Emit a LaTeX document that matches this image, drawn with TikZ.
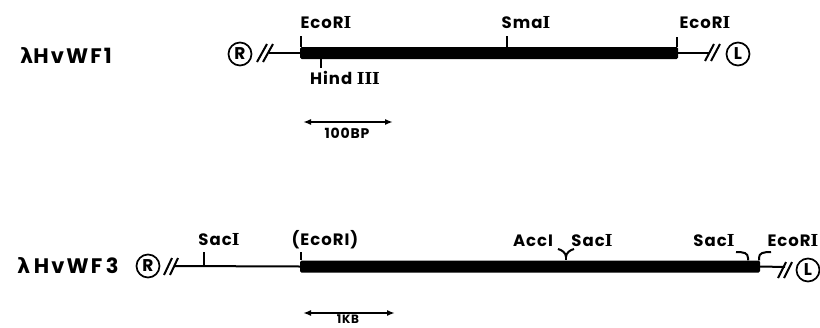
\documentclass[tikz,border=0pt]{standalone}
\usepackage{fontspec}
\setsansfont{Poppins}[LetterSpace=6]
\newfontfamily\grkfont{DejaVu Sans}
\newfontfamily\serifIfont{DejaVu Serif}
\usetikzlibrary{arrows.meta}
\newcommand\RNI{{\serifIfont\bfseries I}}
\begin{document}
\begin{tikzpicture}[x=1pt,y=-1pt,
  thinln/.style={line width=2pt},
  tickln/.style={line width=2pt},
  slashln/.style={line width=2pt},
  barbox/.style={fill=black, draw=none, inner sep=0pt, rounded corners=1.5pt},
  lab/.style={font=\sffamily\bfseries\fontsize{16.5}{17}\selectfont, inner sep=0pt},
  ttl/.style={font=\sffamily\bfseries\fontsize{21}{22}\selectfont\addfontfeatures{LetterSpace=10}, inner sep=0pt, anchor=west},
  endc/.style={circle, draw, line width=1.7pt, minimum size=23pt, inner sep=0pt,
     font=\sffamily\bfseries\fontsize{17}{17}\selectfont},
  scalearr/.style={line width=2pt, {Latex[length=8pt,width=6pt]}-{Latex[length=8pt,width=6pt]}}
]
\useasboundingbox (0,0) rectangle (820,327);

%% ---------- Row 1 ----------
\node[ttl] (t1) at (20,56) {{\grkfont\bfseries λ}HvWF1};
\node[endc] (R1) at (240,54) {R};
\node[barbox, minimum width=378pt, minimum height=12pt] (bar1) at (489,53) {};
\coordinate (s1a) at (257,62); \coordinate (s1b) at (267,44);
\coordinate (s1c) at (263,62); \coordinate (s1d) at (273,44);
\draw[slashln] (s1a) -- (s1b); \draw[slashln] (s1c) -- (s1d);
\coordinate (l1a) at (269,53);
\draw[thinln] (l1a) -- (bar1.west);
\coordinate (l1b) at (710,53);
\draw[thinln] (bar1.east) -- (l1b);
\coordinate (s1e) at (705,61); \coordinate (s1f) at (714,44);
\coordinate (s1g) at (711,61); \coordinate (s1h) at (720,44);
\draw[slashln] (s1e) -- (s1f); \draw[slashln] (s1g) -- (s1h);
\node[endc] (L1) at (738,54) {L};

% sites
\coordinate (k1) at (301,36);
\draw[tickln] (k1) -- (k1 |- bar1.north);
\node[lab] (e1) at (326,23) {EcoR\RNI};
\coordinate (k2) at (321,68);
\draw[tickln] (k2) -- (k2 |- bar1.south);
\node[lab] (h1) at (345,78) {Hind \RNI\RNI\RNI};
\coordinate (k3) at (507,36);
\draw[tickln] (k3) -- (k3 |- bar1.north);
\node[lab] (m1) at (526,23) {Sma\RNI};
\coordinate (k4) at (677,37);
\draw[tickln] (k4) -- (k4 |- bar1.north);
\node[lab] (e2) at (705,23) {EcoR\RNI};

% scale 1
\coordinate (a1) at (303,122); \coordinate (a2) at (393,122);
\draw[scalearr] (a1) -- (a2);
\node[lab, font=\sffamily\bfseries\fontsize{14}{14}\selectfont] (sc1) at (347,133) {100BP};

%% ---------- Row 2 ----------
\node[ttl] (t2) at (17,266) {{\grkfont\bfseries λ}\,HvWF\,3};
\node[endc] (R2) at (148,266) {R};
\node[barbox, minimum width=460pt, minimum height=12pt] (bar2) at (530,266.5) {};
\coordinate (s2a) at (164,275); \coordinate (s2b) at (172,258);
\coordinate (s2c) at (170,275); \coordinate (s2d) at (178,258);
\draw[slashln] (s2a) -- (s2b); \draw[slashln] (s2c) -- (s2d);
\coordinate (l2a) at (174,266);
\draw[thinln] (l2a) -- (bar2.west);
\coordinate (l2b) at (785,267);
\draw[thinln] (bar2.east) -- (l2b);
\coordinate (s2e) at (778,278); \coordinate (s2f) at (786,262);
\coordinate (s2g) at (784,278); \coordinate (s2h) at (792,262);
\draw[slashln] (s2e) -- (s2f); \draw[slashln] (s2g) -- (s2h);
\node[endc] (L2) at (808,270) {L};

% sites
\coordinate (q1) at (204,252);
\draw[tickln] (q1) -- (q1 |- l2a);
\node[lab] (sa1) at (219,240) {Sac\RNI};
\coordinate (q2) at (301,252);
\draw[tickln] (q2) -- (q2 |- bar2.north);
\node[lab] (e3) at (325,240) {(EcoRI)};
\node[lab] (ac1) at (533,241) {AccI};
\node[lab] (sa2) at (592,241) {Sac\RNI};
\coordinate (y0) at (566,257);
\coordinate (yl) at (558,249); \coordinate (yr) at (574,249);
\draw[tickln] (yl) .. controls (562,250) and (566,253) .. (y0);
\draw[tickln] (yr) .. controls (570,250) and (566,253) .. (y0);
\draw[tickln] (y0) -- (y0 |- bar2.north);
\node[lab] (sa3) at (714,241) {Sac\RNI};
\coordinate (b1) at (736,252); \coordinate (b1e) at (748,258);
\draw[tickln] (b1) .. controls (744,252) and (748,253) .. (b1e) -- (b1e |- bar2.north);
\node[lab] (e4) at (793,241) {EcoR\RNI};
\coordinate (b2) at (771,252); \coordinate (b2e) at (759,258);
\draw[tickln] (b2) .. controls (763,252) and (759,253) .. (b2e) -- (b2e |- bar2.north);

% scale 2
\coordinate (a3) at (303,313); \coordinate (a4) at (395,313);
\draw[scalearr] (a3) -- (a4);
\node[lab, font=\sffamily\bfseries\fontsize{12}{12}\selectfont] (sc2) at (348,319.5) {1KB};
\end{tikzpicture}
\end{document}
